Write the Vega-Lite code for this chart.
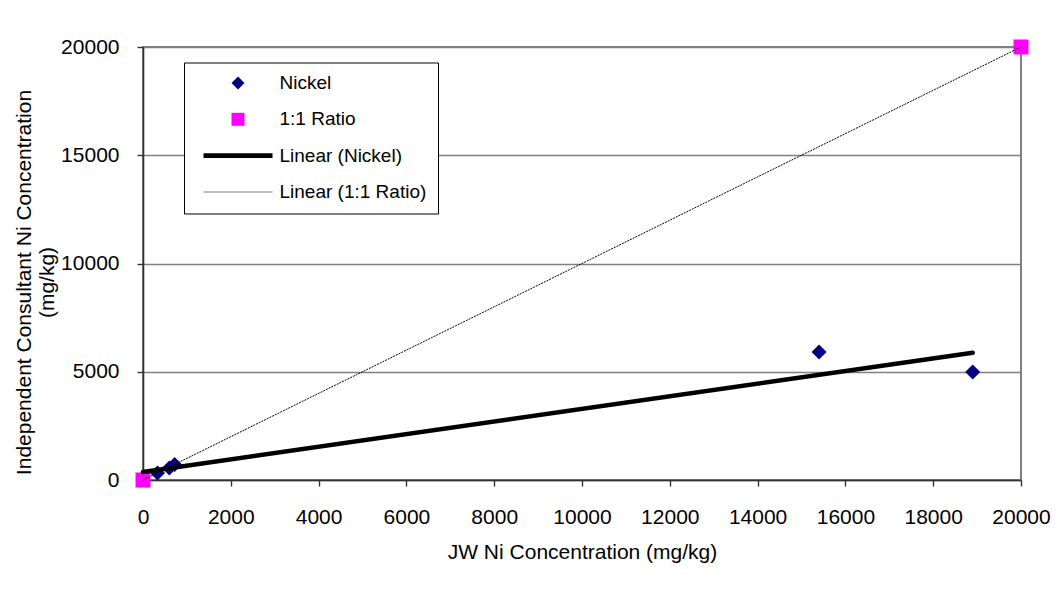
{
  "$schema": "https://vega.github.io/schema/vega-lite/v6.json",
  "width": 878,
  "height": 433,
  "autosize": "none",
  "padding": {"left": 143, "top": 47, "right": 36, "bottom": 120},
  "background": "white",
  "config": {
    "font": "Liberation Sans",
    "view": {"stroke": "#808080", "strokeWidth": 2},
    "axis": {
      "labelFont": "Liberation Sans",
      "titleFont": "Liberation Sans",
      "labelFontSize": 21,
      "titleFontSize": 21,
      "titleFontWeight": "normal",
      "labelColor": "#000000",
      "titleColor": "#000000",
      "domainColor": "#333333",
      "domainWidth": 1.6,
      "tickColor": "#333333",
      "tickWidth": 1.4,
      "tickSize": 6,
      "gridColor": "#808080",
      "gridWidth": 1.3
    },
    "legend": {
      "title": null,
      "orient": "none",
      "legendX": 41,
      "legendY": 15.5,
      "strokeColor": "#000000",
      "fillColor": "#ffffff",
      "padding": 11,
      "labelFont": "Liberation Sans",
      "labelFontSize": 19,
      "labelColor": "#000000",
      "rowPadding": 16.3,
      "symbolOffset": 33.5,
      "labelOffset": 32,
      "symbolSize": 169,
      "symbolStrokeWidth": 0,
      "labelLimit": 400
    }
  },
  "datasets": {
    "points": [
      {"series": "Nickel", "jw": 330, "ic": 320},
      {"series": "Nickel", "jw": 600, "ic": 550},
      {"series": "Nickel", "jw": 720, "ic": 720},
      {"series": "Nickel", "jw": 15400, "ic": 5910},
      {"series": "Nickel", "jw": 18900, "ic": 4990},
      {"series": "1:1 Ratio", "jw": 0, "ic": 0},
      {"series": "1:1 Ratio", "jw": 20000, "ic": 20000}
    ],
    "trend": [
      {"series": "Linear (Nickel)", "jw": 0, "ic": 370},
      {"series": "Linear (Nickel)", "jw": 18900, "ic": 5880},
      {"series": "Linear (1:1 Ratio)", "jw": 0, "ic": 0},
      {"series": "Linear (1:1 Ratio)", "jw": 20000, "ic": 20000}
    ]
  },
  "layer": [
    {
      "data": {"name": "points"},
      "mark": {"type": "point", "filled": true, "size": 225, "opacity": 1, "strokeWidth": 0},
      "encoding": {
        "x": {
          "field": "jw", "type": "quantitative",
          "scale": {"domain": [0, 20000], "nice": false},
          "axis": {
            "title": "JW Ni Concentration (mg/kg)",
            "values": [0, 2000, 4000, 6000, 8000, 10000, 12000, 14000, 16000, 18000, 20000],
            "format": "d",
            "grid": false,
            "labelBaseline": "alphabetic",
            "labelPadding": 37,
            "labelFlush": false,
            "labelOverlap": false,
            "titleBaseline": "alphabetic",
            "titleY": 78
          }
        },
        "y": {
          "field": "ic", "type": "quantitative",
          "scale": {"domain": [0, 20000], "nice": false},
          "axis": {
            "title": ["Independent Consultant Ni Concentration", "(mg/kg)"],
            "values": [0, 5000, 10000, 15000, 20000],
            "format": "d",
            "grid": true,
            "labelPadding": 18,
            "labelFlush": false,
            "labelOverlap": false,
            "titleBaseline": "alphabetic",
            "titleAlign": "center",
            "titleX": -113,
            "titleY": 235,
            "titleLineHeight": 23
          }
        },
        "color": {
          "field": "series", "type": "nominal",
          "scale": {
            "domain": ["Nickel", "1:1 Ratio", "Linear (Nickel)", "Linear (1:1 Ratio)"],
            "range": ["#000080", "#FF00FF", "#000000", "#7f7f7f"]
          },
          "legend": {"title": null}
        },
        "shape": {
          "field": "series", "type": "nominal",
          "scale": {
            "domain": ["Nickel", "1:1 Ratio", "Linear (Nickel)", "Linear (1:1 Ratio)"],
            "range": ["diamond", "square", "M-5.31,-0.35L5.31,-0.35L5.31,0.35L-5.31,0.35Z", "M-5.31,-0.08L5.31,-0.08L5.31,0.08L-5.31,0.08Z"]
          },
          "legend": {"title": null}
        }
      }
    },
    {
      "data": {"name": "trend"},
      "transform": [{"filter": "datum.series == 'Linear (Nickel)'"}],
      "mark": {"type": "line", "color": "#000000", "strokeWidth": 4.5, "strokeCap": "round"},
      "encoding": {
        "x": {"field": "jw", "type": "quantitative"},
        "y": {"field": "ic", "type": "quantitative"}
      }
    },
    {
      "data": {"name": "trend"},
      "transform": [{"filter": "datum.series == 'Linear (1:1 Ratio)'"}],
      "mark": {"type": "line", "color": "#000000", "strokeWidth": 1, "strokeDash": [2, 1]},
      "encoding": {
        "x": {"field": "jw", "type": "quantitative"},
        "y": {"field": "ic", "type": "quantitative"}
      }
    }
  ]
}
